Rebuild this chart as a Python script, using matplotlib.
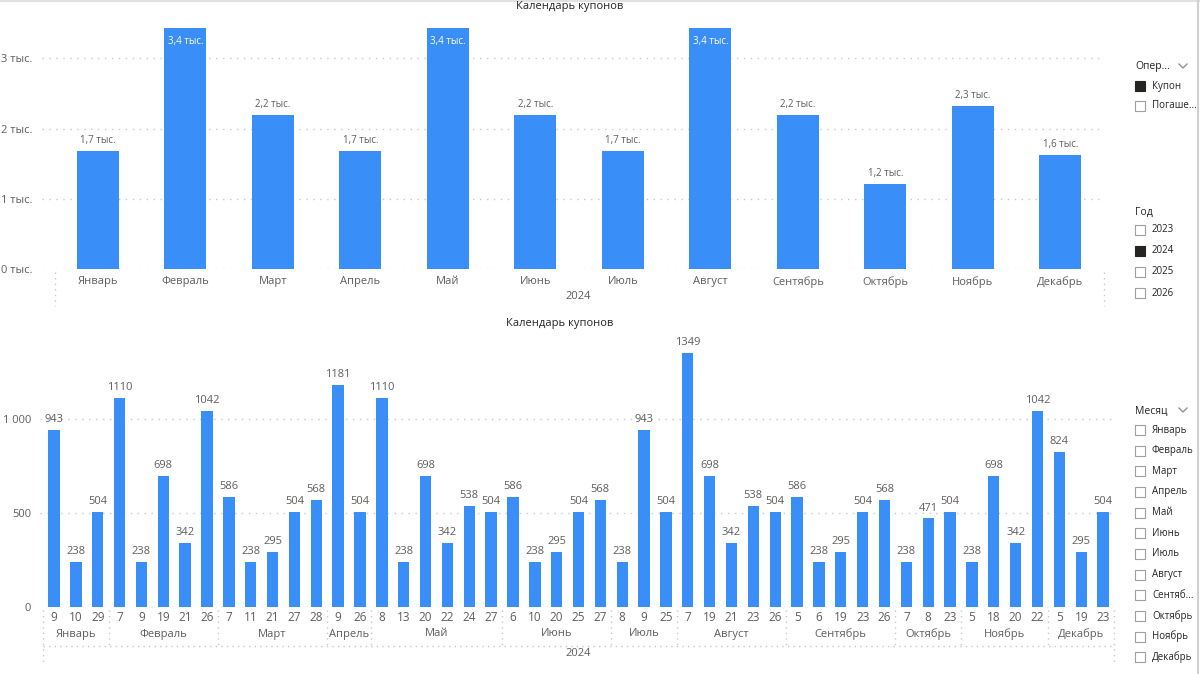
import matplotlib
matplotlib.use("Agg")
import matplotlib.pyplot as plt
from matplotlib.lines import Line2D
from matplotlib.patches import Rectangle
import matplotlib.transforms as mtransforms

plt.rcParams['font.family'] = ['Open Sans', 'DejaVu Sans']

# ---------------- data ----------------
months = ["Январь", "Февраль", "Март", "Апрель", "Май", "Июнь", "Июль",
          "Август", "Сентябрь", "Октябрь", "Ноябрь", "Декабрь"]
monthly_totals = [1685, 3430, 2191, 1685, 3430, 2191, 1685, 3431, 2191, 1213, 2320, 1623]
top_labels = ["1,7 тыс.", "3,4 тыс.", "2,2 тыс.", "1,7 тыс.", "3,4 тыс.", "2,2 тыс.",
              "1,7 тыс.", "3,4 тыс.", "2,2 тыс.", "1,2 тыс.", "2,3 тыс.", "1,6 тыс."]

day_month = (["Январь"] * 3 + ["Февраль"] * 5 + ["Март"] * 5 + ["Апрель"] * 2 +
             ["Май"] * 6 + ["Июнь"] * 5 + ["Июль"] * 3 + ["Август"] * 5 +
             ["Сентябрь"] * 5 + ["Октябрь"] * 3 + ["Ноябрь"] * 4 + ["Декабрь"] * 3)
days = [9, 10, 29,
        7, 9, 19, 21, 26,
        7, 11, 21, 27, 28,
        9, 26,
        8, 13, 20, 22, 24, 27,
        6, 10, 20, 25, 27,
        8, 9, 25,
        7, 19, 21, 23, 26,
        5, 6, 19, 23, 26,
        7, 8, 23,
        5, 18, 20, 22,
        5, 19, 23]
day_values = [943, 238, 504,
              1110, 238, 698, 342, 1042,
              586, 238, 295, 504, 568,
              1181, 504,
              1110, 238, 698, 342, 538, 504,
              586, 238, 295, 504, 568,
              238, 943, 504,
              1349, 698, 342, 538, 504,
              586, 238, 295, 504, 568,
              238, 471, 504,
              238, 698, 342, 1042,
              824, 295, 504]

year_label = "2024"
title = "Календарь купонов"
oper_items = ["Купон", "Погаше..."]
oper_checked = [True, False]
years = ["2023", "2024", "2025", "2026"]
years_checked = [False, True, False, False]
slicer_months = ["Январь", "Февраль", "Март", "Апрель", "Май", "Июнь", "Июль",
                 "Август", "Сентяб...", "Октябрь", "Ноябрь", "Декабрь"]

# ---------------- style ----------------
W, H = 1200, 674
BAR = "#3A8EF8"
DARK = "#252423"
GRAY = "#605E5C"
GRID = "#C8C8C8"

fig = plt.figure(figsize=(W / 100, H / 100), dpi=100)
fig.patch.set_facecolor("white")


def px_axes(l, t, r, b):
    return fig.add_axes([l / W, 1 - b / H, (r - l) / W, (b - t) / H])


def fx(x):
    return x / W


def fy(y):
    return 1 - y / H


# ---------------- top chart ----------------
ax1 = px_axes(42, 28, 1104, 269)
xs = list(range(len(months)))
ymax1 = 3431
ax1.bar(xs, monthly_totals, width=0.48, color=BAR, zorder=3)
ax1.set_xlim(-0.64, 11.5)
ax1.set_ylim(0, ymax1)
ax1.set_yticks([0, 1000, 2000, 3000])
ax1.set_yticklabels(["0 тыс.", "1 тыс.", "2 тыс.", "3 тыс."])
ax1.set_xticks(xs)
ax1.set_xticklabels(months)
ax1.tick_params(axis='both', length=0, colors=GRAY, labelsize=8)
ax1.tick_params(axis='y', pad=6.5)
ax1.tick_params(axis='x', pad=5)
ax1.yaxis.grid(True, linestyle=(0, (1, 4)), color=GRID, linewidth=1, zorder=0)
for s in ax1.spines.values():
    s.set_visible(False)
for x, v, lab in zip(xs, monthly_totals, top_labels):
    if v >= ymax1 * 0.98:
        ax1.annotate(lab, (x, ymax1), xytext=(0, -10), textcoords='offset points',
                     ha='center', va='center', fontsize=7, color='white', zorder=4)
    else:
        ax1.annotate(lab, (x, v), xytext=(0, 7.5), textcoords='offset points',
                     ha='center', va='center', fontsize=7, color=GRAY, zorder=4)

fig.text(fx(570), fy(6), title, ha='center', va='center', fontsize=8, color=DARK)
fig.text(fx(578), fy(297), year_label, ha='center', va='center', fontsize=8, color=GRAY)
fig.add_artist(Line2D([fx(55), fx(55)], [fy(272), fy(306)], linestyle=(0, (1, 3)),
                      color=GRID, linewidth=1))
fig.add_artist(Line2D([fx(1104), fx(1104)], [fy(272), fy(306)], linestyle=(0, (1, 3)),
                      color=GRID, linewidth=1))

# ---------------- bottom chart ----------------
ax2 = px_axes(40, 350, 1114, 607)
xs2 = list(range(len(days)))
ax2.bar(xs2, day_values, width=0.52, color=BAR, zorder=3)
ax2.set_xlim(-0.64, len(days) - 0.5)
ax2.set_ylim(0, 1367)
ax2.set_yticks([0, 500, 1000])
ax2.set_yticklabels(["0", "500", "1 000"])
ax2.set_xticks(xs2)
ax2.set_xticklabels([str(d) for d in days])
ax2.tick_params(axis='both', length=0, colors=GRAY)
ax2.tick_params(axis='y', pad=6.5, labelsize=8)
ax2.tick_params(axis='x', pad=3, labelsize=8.5)
ax2.yaxis.grid(True, linestyle=(0, (1, 4)), color=GRID, linewidth=1, zorder=0)
for s in ax2.spines.values():
    s.set_visible(False)
for x, v in zip(xs2, day_values):
    ax2.annotate(str(v), (x, v), xytext=(0, 7.5), textcoords='offset points',
                 ha='center', va='center', fontsize=8, color=GRAY, zorder=4)

trans = mtransforms.blended_transform_factory(ax2.transData, ax2.transAxes)
axh = 607 - 350


def ay(ypx):
    return (607 - ypx) / axh


# month groups
start = 0
bounds = [-0.5]
for m in months:
    n = day_month.count(m)
    center = start + (n - 1) / 2
    ax2.text(center, ay(634), m, transform=trans, ha='center', va='center',
             fontsize=8, color=GRAY, clip_on=False)
    start += n
    bounds.append(start - 0.5)
for i, b in enumerate(bounds):
    bot = 665 if i in (0, len(bounds) - 1) else 646
    ax2.add_line(Line2D([b, b], [ay(610), ay(bot)], transform=trans, clip_on=False,
                        linestyle=(0, (1, 3)), color=GRID, linewidth=1))
ax2.add_line(Line2D([-0.5, len(days) - 0.5], [ay(646), ay(646)], transform=trans,
                    clip_on=False, linestyle=(0, (1, 3)), color=GRID, linewidth=1))
fig.text(fx(578), fy(654), year_label, ha='center', va='center', fontsize=8, color=GRAY)
fig.text(fx(560), fy(324), title, ha='center', va='center', fontsize=8, color=DARK)

# ---------------- slicers ----------------
def chevron(x, y):
    fig.add_artist(Line2D([fx(x - 4), fx(x), fx(x + 4)], [fy(y - 2), fy(y + 2), fy(y - 2)],
                          color="#8A8886", linewidth=0.9))


def checkbox(x, y, checked):
    s = 10
    fig.add_artist(Rectangle((fx(x), fy(y + s / 2)), s / W, s / H,
                             facecolor=DARK if checked else 'white',
                             edgecolor=DARK if checked else "#A19F9D", linewidth=0.8))


def slicer(header, items, checked, y0, step, y_items):
    fig.text(fx(1135), fy(y0), header, ha='left', va='center', fontsize=7.5, color=DARK)
    for i, (it, c) in enumerate(zip(items, checked)):
        y = y_items + i * step
        checkbox(1135, y, c)
        fig.text(fx(1152), fy(y), it, ha='left', va='center', fontsize=7, color=DARK)


slicer("Опер...", oper_items, oper_checked, 67, 19.5, 86)
chevron(1183, 66)
slicer("Год", years, years_checked, 212, 21, 230)
slicer("Месяц", slicer_months, [False] * 12, 411, 20.65, 430)
chevron(1183, 410)

# frame edges
fig.add_artist(Line2D([0, 1], [fy(0.5), fy(0.5)], color="#E1E1E1", linewidth=1.5))
fig.add_artist(Line2D([fx(1198), fx(1198)], [0, 1], color="#D0D0D0", linewidth=1.5))

fig.savefig("out.png", dpi=100, facecolor="white")
